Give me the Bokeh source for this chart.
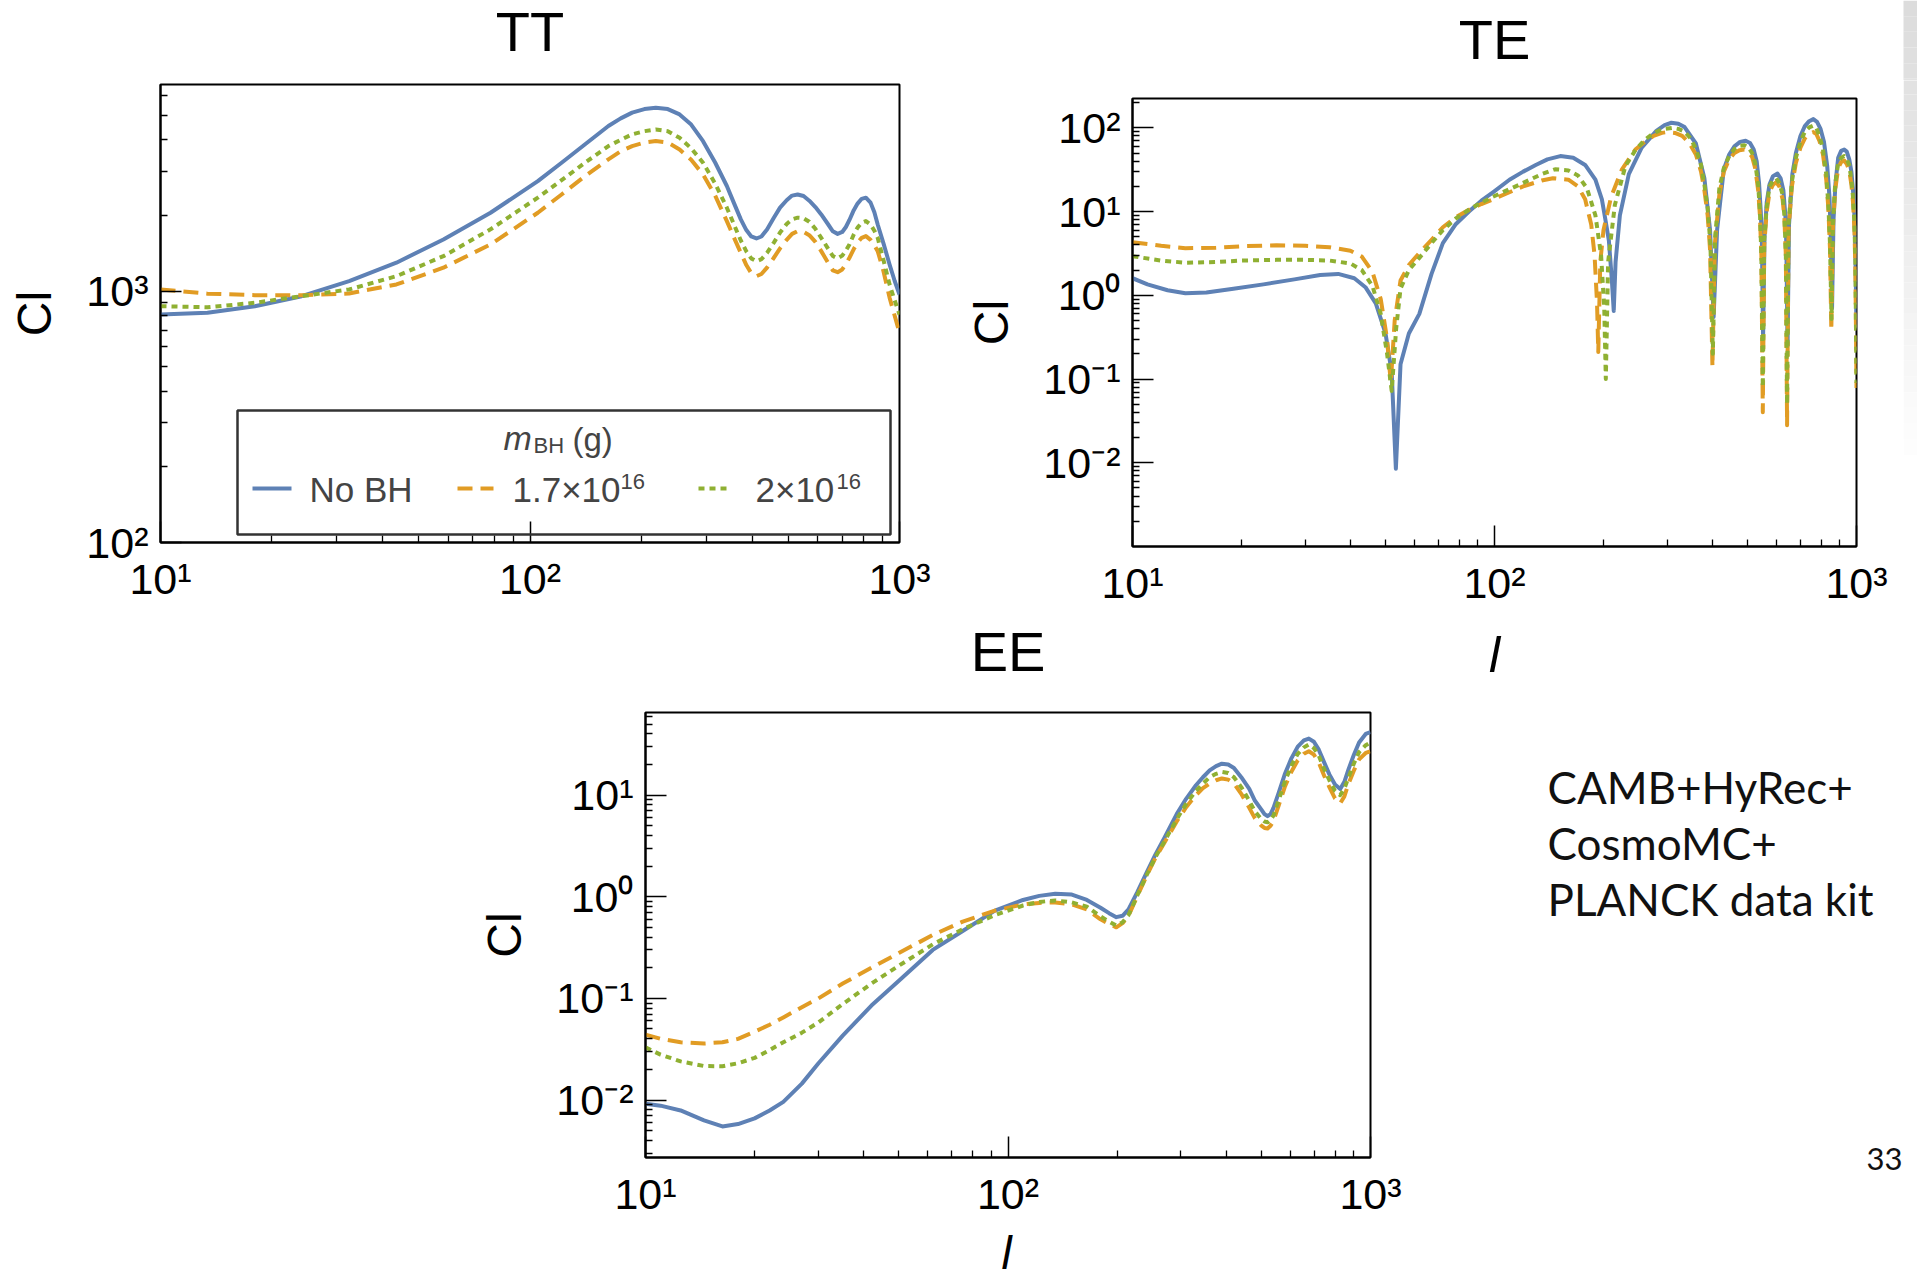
import math

from bokeh.core.properties import value
from bokeh.embed import file_html
from bokeh.layouts import column, row
from bokeh.models import BoxAnnotation, CustomJSTickFormatter, FixedTicker, Label, Range1d
from bokeh.plotting import figure
from bokeh.resources import INLINE

# ---------------------------------------------------------------- data
SERIES = ["No BH", "1.7×10", "2×10"]
SERIES_SUP = ["", "16", "16"]
COLORS = ["#5E81B5", "#E19C24", "#8FB032"]
DASHES = ["solid", "15 8", "6 5"]
PANEL_TITLES = ["TT", "TE", "EE"]

X_TICK_EXPS = [1, 2, 3]
TT_Y_TICK_EXPS = [2, 3]
TE_Y_TICK_EXPS = [-2, -1, 0, 1, 2]
EE_Y_TICK_EXPS = [-2, -1, 0, 1]

# TT
TT_L = [10, 13.4, 18, 24.1, 32.4, 43.5, 58.3, 78.2, 105, 122, 141, 163, 176, 189, 204, 219, 236,
        254, 273, 294, 317, 341, 356, 372, 385, 397, 410, 423, 438, 457, 475, 495, 512, 530, 550,
        570, 592, 614, 640, 660, 680, 700, 716, 732, 752, 770, 790, 811, 835, 855, 873, 905, 940,
        970, 1000]
TT_NOBH = [807, 820, 871, 955, 1096, 1298, 1606, 2051, 2740, 3250, 3840, 4540, 4870, 5130, 5300,
           5370, 5300, 5050, 4600, 3950, 3250, 2620, 2250, 1930, 1750, 1650, 1620, 1650, 1760, 1960,
           2150, 2300, 2400, 2425, 2390, 2290, 2160, 2020, 1850, 1730, 1690, 1720, 1800, 1920, 2100,
           2230, 2330, 2355, 2250, 2060, 1841, 1550, 1277, 1100, 970]
TT_M17 = [1016, 977, 964, 964, 979, 1063, 1240, 1534, 2051, 2430, 2870, 3344, 3600, 3777, 3900,
          3955, 3900, 3664, 3330, 2912, 2400, 1900, 1640, 1420, 1270, 1180, 1147, 1170, 1240, 1358,
          1480, 1600, 1690, 1734, 1720, 1670, 1570, 1443, 1300, 1210, 1190, 1220, 1280, 1358, 1470,
          1560, 1630, 1656, 1600, 1520, 1443, 1200, 942, 800, 682]
TT_M20 = [871, 863, 899, 955, 1016, 1147, 1378, 1762, 2355, 2770, 3245, 3777, 4000, 4205, 4330,
          4400, 4330, 4075, 3700, 3245, 2680, 2148, 1850, 1590, 1440, 1350, 1315, 1340, 1420, 1560,
          1710, 1850, 1930, 1960, 1950, 1890, 1770, 1630, 1480, 1380, 1350, 1385, 1450, 1534, 1680,
          1790, 1870, 1900, 1840, 1740, 1630, 1330, 1063, 920, 807]

# TE
TE_L_NOBH = [10, 11, 12.5, 14, 16, 19, 23, 28, 33, 37, 41, 44, 47, 50, 52, 53.4, 55, 58, 62, 67,
             72, 78, 85, 92, 99, 110, 120, 130, 140, 152, 165, 178, 190, 198, 203, 207, 211, 213.5,
             216, 222, 235, 255, 280, 295, 308, 322, 335, 360, 380, 394, 403, 412, 430, 445, 460,
             477, 494, 508, 520, 530, 538, 544, 548, 552, 557, 565, 575, 588, 605, 617, 628, 636,
             640, 645, 651, 665, 680, 700, 720, 740, 760, 778, 795, 813, 830, 842, 848, 856, 864,
             875, 890, 907, 925, 940, 955, 968, 978, 987, 993, 1000]
TE_NOBH = [1.6, 1.35, 1.15, 1.06, 1.08, 1.2, 1.35, 1.55, 1.75, 1.8, 1.6, 1.25, 0.8, 0.35, 0.12,
           0.0085, 0.15, 0.35, 0.6, 1.8, 4.2, 7, 10, 13.5, 17, 24, 30, 36, 42, 46, 44, 36, 24, 14,
           7.5, 4.5, 1.5, 0.65, 2.5, 9, 28, 58, 92, 108, 115, 112, 102, 65, 25, 6, 0.55, 6, 32, 48,
           60, 68, 70, 66, 55, 40, 22, 10, 4, 0.3, 5, 13, 21, 26.5, 28.5, 25, 18, 9, 4, 0.25, 7,
           28, 50, 80, 105, 120, 127, 118, 98, 68, 35, 15, 6, 0.7, 8, 22, 44, 53, 55, 52, 42, 30,
           18, 9, 3, 0.4]
TE_L_M17 = [10, 12, 14, 17, 20, 25, 30, 35, 40, 43, 46, 48.5, 50.5, 51.7, 53, 55, 58, 62, 67, 72,
            78, 85, 92, 99, 110, 120, 135, 145, 160, 170, 178, 185, 189, 192, 193.5, 196, 200, 210,
            225, 245, 260, 275, 290, 300, 315, 330, 345, 360, 372, 380, 388, 394, 400, 406, 418,
            430, 445, 460, 475, 490, 503, 515, 525, 535, 541, 546, 551, 556, 565, 575, 588, 600,
            612, 625, 632, 638, 643, 649, 663, 680, 700, 720, 740, 760, 775, 790, 808, 825, 836,
            845, 852, 860, 873, 890, 907, 925, 940, 955, 968, 978, 987, 993, 1000]
TE_M17 = [4.3, 3.9, 3.65, 3.7, 3.85, 3.95, 3.9, 3.75, 3.4, 2.9, 1.9, 0.9, 0.3, 0.09, 0.5, 1.5,
          2.3, 3.2, 4.6, 6.5, 8.5, 10.5, 12.3, 14, 17, 20, 23.5, 25, 24, 20, 14, 7, 3, 0.8, 0.21,
          2.5, 6, 15, 32, 55, 68, 80, 87, 89, 87, 80, 66, 48, 30, 18, 9, 3.5, 0.14, 4, 16, 30, 42,
          50, 54, 55, 51, 45, 33, 18, 9, 3, 0.04, 4, 10, 17, 21, 22.4, 20, 14, 8.5, 3, 0.028, 6,
          20, 38, 58, 75, 85, 89, 84, 70, 48, 24, 11, 3.5, 0.38, 6, 18, 33, 39, 40.7, 37, 31, 21,
          13, 6, 2, 0.078]
TE_L_M20 = [10, 12, 14, 17, 20, 25, 30, 35, 40, 43, 46, 48.5, 50.5, 52, 53.5, 55, 58, 62, 67, 72,
            78, 85, 92, 99, 110, 120, 135, 147, 160, 170, 180, 190, 197, 201, 203, 206, 215, 230,
            245, 260, 275, 290, 310, 322, 335, 348, 360, 372, 380, 388, 395, 401, 407, 418, 430,
            445, 460, 475, 490, 503, 515, 525, 535, 541, 546, 551, 556, 565, 575, 588, 600, 612,
            625, 632, 638, 643, 649, 663, 680, 700, 720, 740, 760, 775, 790, 808, 825, 836, 845,
            853, 860, 873, 890, 907, 925, 940, 955, 968, 978, 987, 993, 1000]
TE_M20 = [2.93, 2.6, 2.45, 2.5, 2.6, 2.65, 2.65, 2.6, 2.4, 2.0, 1.3, 0.6, 0.2, 0.072, 0.4, 1.2,
          2.0, 2.8, 4.2, 6, 8.2, 10.5, 12.8, 15, 18.5, 22, 28, 32, 31, 27, 19, 9, 3, 0.7, 0.10,
          2.5, 12, 35, 54, 72, 86, 96, 100, 97, 90, 75, 56, 36, 21, 11, 4, 0.2, 5, 19, 33, 46, 56,
          61, 62, 58, 50, 38, 21, 10, 3, 0.08, 4.5, 11.5, 20, 23.5, 25, 22, 16, 9, 3, 0.05, 7, 23,
          44, 68, 90, 101, 106, 99, 80, 55, 28, 12, 4, 0.52, 7, 21, 38, 44, 46, 42, 36, 24, 15, 7,
          2.5, 0.09]

# EE
EE_L = [10, 11, 12.5, 14.5, 16.3, 18, 20, 22, 24, 27, 30, 35, 42, 50, 62, 75, 92, 110, 122, 135,
        150, 165, 180, 190, 199, 207, 215, 227, 241, 255, 270, 292, 310, 330, 345, 360, 375, 389,
        405, 420, 440, 463, 480, 500, 510, 520, 530, 540, 558, 580, 605, 630, 655, 676, 698, 720,
        745, 770, 798, 825, 847, 870, 900, 930, 970, 1000]
EE_NOBH = [0.0092, 0.0088, 0.0079, 0.0063, 0.0055, 0.0058, 0.0066, 0.0079, 0.0096, 0.0145, 0.023,
           0.043, 0.085, 0.149, 0.30, 0.46, 0.73, 0.93, 1.02, 1.07, 1.05, 0.93, 0.78, 0.69, 0.63,
           0.65, 0.75, 1.1, 1.72, 2.6, 3.8, 6.5, 9.2, 12.5, 15, 17.5, 19.3, 20.4, 20, 18.5, 15,
           11.5, 8.8, 7.2, 6.5, 6.2, 6.5, 7.5, 10.5, 16, 23, 30, 34.5, 36, 33.5, 28, 21, 16, 12.7,
           11.5, 13.5, 18, 25, 33, 40, 41.7]
EE_M17 = [0.044, 0.040, 0.037, 0.036, 0.037, 0.040, 0.047, 0.055, 0.065, 0.082, 0.10, 0.14, 0.2,
          0.28, 0.42, 0.57, 0.73, 0.84, 0.87, 0.88, 0.84, 0.75, 0.6, 0.54, 0.5, 0.55, 0.65, 1.0,
          1.6, 2.4, 3.4, 5.5, 7.6, 10, 11.7, 13, 14, 14.6, 14.2, 13, 10.3, 7.5, 5.9, 5.0, 4.75,
          4.7, 5.0, 5.6, 7.9, 12, 17, 22, 25.5, 27, 25, 21, 15.5, 12, 9.3, 8.3, 9.7, 13, 17.5,
          22.5, 26, 27]
EE_M20 = [0.033, 0.028, 0.024, 0.0216, 0.0215, 0.023, 0.026, 0.031, 0.037, 0.046, 0.058, 0.088,
          0.14, 0.21, 0.34, 0.48, 0.66, 0.82, 0.89, 0.92, 0.88, 0.8, 0.64, 0.57, 0.52, 0.56, 0.66,
          1.02, 1.62, 2.45, 3.5, 5.8, 8.2, 11, 13, 15, 16.2, 16.9, 16.5, 15, 12, 8.8, 6.9, 5.8,
          5.5, 5.4, 5.7, 6.3, 8.9, 13.5, 19.5, 25.5, 29.5, 31.5, 29, 24.5, 18, 14, 11, 10, 11.6,
          15, 20.5, 26.5, 31, 33]

NOTE_LINES = ["CAMB+HyRec+", "CosmoMC+", "PLANCK data kit"]
PAGE_NUMBER = "33"

# ---------------------------------------------------------------- page geometry (pixels)
PAGE_W, PAGE_H = 1917, 1280
TOP_H = 80            # strip holding the two upper titles
ROW1_H = 612          # bottom of the upper row
EE_TITLE_H = 70
STRIP_H = 56          # strip below the EE panel
FONT = "Liberation Sans"
NOTE_FONT = "Lato"
X_RANGE = (10, 1000)

POWER_LABEL = CustomJSTickFormatter(code="""
const sup = {'-': '\u207b', '0': '\u2070', '1': '\u00b9', '2': '\u00b2', '3': '\u00b3',
             '4': '\u2074', '5': '\u2075', '6': '\u2076', '7': '\u2077', '8': '\u2078', '9': '\u2079'};
const e = Math.round(Math.log10(tick));
return '10' + String(e).split('').map(c => sup[c]).join('');
""")


def decade_minors(lo, hi):
    out = []
    for k in range(math.floor(math.log10(lo)), math.ceil(math.log10(hi)) + 1):
        for m in range(2, 10):
            v = m * 10.0 ** k
            if lo <= v <= hi:
                out.append(v)
    return out


def canvas(width, height, x_left=0, y_top=0):
    """Plain drawing area whose coordinates are page pixels (y downwards)."""
    p = figure(width=width, height=height, x_range=Range1d(x_left, x_left + width),
               y_range=Range1d(y_top + height, y_top), output_backend="svg",
               toolbar_location=None, min_border=0, frame_align=False, title_location=None,
               x_axis_type=None, y_axis_type=None)
    p.outline_line_color = None
    p.grid.visible = False
    p.background_fill_color = "white"
    p.border_fill_color = "white"
    return p


def page_text(p, xs, ys, texts, size, font=FONT, align="center", style="normal", color="black"):
    # ys are the vertical centres of the capital letters
    p.text(x=xs, y=ys, text=texts, text_align=align, text_baseline="middle",
           text_font=value(font), text_font_size=size, text_font_style=style, text_color=color)


def panel(width, height, borders, y_range, y_exps):
    left, right, top, bottom = borders
    p = figure(width=width, height=height, x_axis_type="log", y_axis_type="log",
               x_range=Range1d(*X_RANGE), y_range=Range1d(*y_range),
               output_backend="svg", toolbar_location=None, frame_align=False,
               title_location=None,
               min_border_left=left, min_border_right=right,
               min_border_top=top, min_border_bottom=bottom)
    p.xgrid.visible = False
    p.ygrid.visible = False
    p.outline_line_color = "black"
    p.outline_line_width = 2
    p.outline_line_alpha = 1
    p.background_fill_color = "white"
    p.border_fill_color = "white"

    for ax, lo, hi, exps in ((p.xaxis[0], *X_RANGE, X_TICK_EXPS), (p.yaxis[0], *y_range, y_exps)):
        ax.ticker = FixedTicker(ticks=[10.0 ** e for e in exps], minor_ticks=decade_minors(lo, hi))
        ax.formatter = POWER_LABEL
        ax.axis_line_color = "black"
        ax.axis_line_width = 2
        ax.major_tick_in = 21
        ax.major_tick_out = 0
        ax.minor_tick_in = 7
        ax.minor_tick_out = 0
        ax.major_tick_line_width = 1.5
        ax.minor_tick_line_width = 1.3
        ax.major_tick_line_color = "black"
        ax.minor_tick_line_color = "black"
        ax.major_label_text_font = FONT
        ax.major_label_text_font_size = "43px"
        ax.major_label_text_color = "black"
    p.xaxis.major_label_standoff = 12
    p.yaxis.major_label_standoff = 12
    p.yaxis.axis_label = "Cl"
    p.yaxis.axis_label_text_font = FONT
    p.yaxis.axis_label_text_font_size = "48px"
    p.yaxis.axis_label_text_font_style = "normal"
    p.yaxis.axis_label_text_color = "black"
    p.yaxis.axis_label_standoff = 22
    return p


def curves(p, xs_list, ys_list):
    for xs, ys, c, d in zip(xs_list, ys_list, COLORS, DASHES):
        p.line(xs, ys, line_color=c, line_width=4, line_dash=d, line_join="round")


def edge_shade(p):
    # light grey strip along the right page edge, fading downwards
    steps = 30
    for i in range(steps):
        g = int(220 + (255 - 220) * i / (steps - 1))
        p.quad(left=PAGE_W - 14, right=PAGE_W, top=i * 470 / steps,
               bottom=(i + 1) * 470 / steps, fill_color=f"#{g:02x}{g:02x}{g:02x}", line_color=None)


# ---------------------------------------------------------------- titles of the upper row
top = canvas(PAGE_W, TOP_H)
page_text(top, [529.5, 1494], [31, 38.5], PANEL_TITLES[:2], "56px")
edge_shade(top)

# ---------------------------------------------------------------- TT
TT_YR = (100, 6640)
TT_FRAME = (160, 899, 84, 542)
tt = panel(960, ROW1_H - TOP_H, (160, 61, 84 - TOP_H, ROW1_H - 542), TT_YR, TT_Y_TICK_EXPS)
curves(tt, [TT_L, TT_L, TT_L], [TT_NOBH, TT_M17, TT_M20])


def tt_x(px):
    l, r, _, _ = TT_FRAME
    return 10 ** (1 + 2 * (px - l) / (r - l))


def tt_y(py):
    _, _, t, b = TT_FRAME
    lo, hi = math.log10(TT_YR[0]), math.log10(TT_YR[1])
    return 10 ** (lo + (hi - lo) * (b - py) / (b - t))


# legend of the three runs, inside the TT frame
tt.add_layout(BoxAnnotation(left=tt_x(237), right=tt_x(890), bottom=tt_y(534), top=tt_y(410),
                            fill_alpha=0, line_color="#333333", line_alpha=1, line_width=2.5))
tt.add_layout(Label(x=tt_x(503), y=tt_y(437), text="m", text_font=FONT, text_font_style="italic",
                    text_font_size="34px", text_baseline="middle"))
tt.add_layout(Label(x=tt_x(533), y=tt_y(445), text="BH", text_font=FONT, text_font_size="22px",
                    text_baseline="middle"))
tt.add_layout(Label(x=tt_x(572), y=tt_y(439), text="(g)", text_font=FONT, text_font_size="33px",
                    text_baseline="middle"))
sample_px = [(252, 291), (457, 493), (698, 731)]
label_px = [309, 512, 755]
sup_px = [None, 620, 836]
for (a, b), lx, sx, name, sup, c, d in zip(sample_px, label_px, sup_px, SERIES, SERIES_SUP, COLORS, DASHES):
    tt.line([tt_x(a), tt_x(b)], [tt_y(488), tt_y(488)], line_color=c, line_width=4, line_dash=d)
    tt.add_layout(Label(x=tt_x(lx), y=tt_y(489), text=name, text_font=FONT, text_font_size="35px",
                        text_baseline="middle"))
    if sup:
        tt.add_layout(Label(x=tt_x(sx), y=tt_y(481), text=sup, text_font=FONT,
                            text_font_size="22px", text_baseline="middle"))

# ---------------------------------------------------------------- TE
TE_YR = (1e-3, 224)
te = panel(943, ROW1_H - TOP_H, (172, 47, 98 - TOP_H, ROW1_H - 546), TE_YR, TE_Y_TICK_EXPS)
curves(te, [TE_L_NOBH, TE_L_M17, TE_L_M20], [TE_NOBH, TE_M17, TE_M20])

band = canvas(14, ROW1_H - TOP_H, x_left=PAGE_W - 14, y_top=TOP_H)
edge_shade(band)

# ---------------------------------------------------------------- EE
EE_YR = (0.00272, 65)
ee_top = ROW1_H + EE_TITLE_H
ee_h = PAGE_H - STRIP_H - ee_top
ee_title = canvas(1420, EE_TITLE_H, y_top=ROW1_H)
page_text(ee_title, [1007.5], [651], PANEL_TITLES[2:], "56px")
ee = panel(1420, ee_h, (645, 50, 712 - ee_top, PAGE_H - STRIP_H - 1157), EE_YR, EE_Y_TICK_EXPS)
curves(ee, [EE_L, EE_L, EE_L], [EE_NOBH, EE_M17, EE_M20])

# x-axis symbol under the EE panel, near the page bottom
strip = canvas(1420, STRIP_H, y_top=PAGE_H - STRIP_H)
page_text(strip, [1006], [1252], ["l"], "46px", style="italic")

# ---------------------------------------------------------------- side notes
side = canvas(PAGE_W - 1420, PAGE_H - ROW1_H, x_left=1420, y_top=ROW1_H)
page_text(side, [1494], [654], ["l"], "50px", style="italic")
page_text(side, [1547] * 3, [786, 842, 898], NOTE_LINES, "44px", font=NOTE_FONT, align="left",
          color="#111111")
page_text(side, [1902], [1158], [PAGE_NUMBER], "31px", font=NOTE_FONT, align="right",
          color="#111111")

layout = column(top, row(tt, te, band), row(column(ee_title, ee, strip), side))
open("out.html", "w").write(file_html(layout, INLINE))
